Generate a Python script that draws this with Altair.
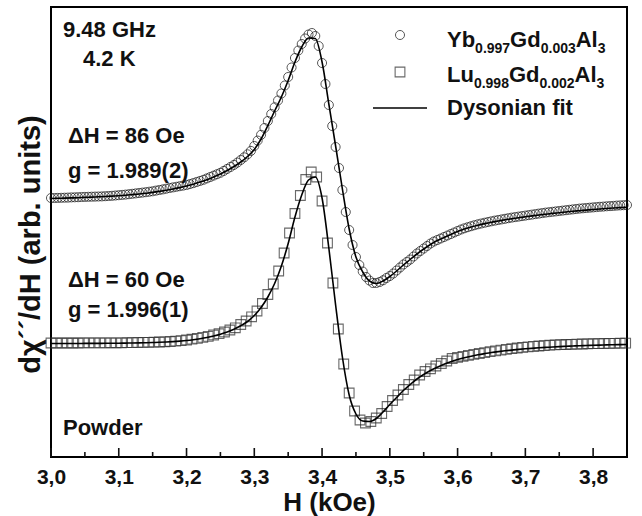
import altair as alt
import pandas as pd

# ---- data (arbitrary units) ----
# Yb0.997Gd0.003Al3 (circles), sampled every 0.005 kOe from 3.000 kOe
yb_signal = [
    259, 259, 259.1, 259.2, 259.3, 259.4, 259.6, 259.7, 259.8, 260,
    260.1, 260.2, 260.3, 260.4, 260.5, 260.6, 260.8, 261, 261.2, 261.5,
    261.8, 262.1, 262.4, 262.8, 263.2, 263.6, 264, 264.4, 264.8, 265.3,
    265.7, 266.4, 267, 267.6, 268.3, 269, 269.6, 270.2, 270.8, 271.4,
    272, 272.9, 273.9, 275, 276.1, 277.2, 278.6, 280, 281.4, 282.8,
    284.2, 286.1, 288.1, 290.1, 292.1, 294.4, 297, 299.7, 302.7, 306.1,
    311, 316.4, 322.2, 329, 336, 343, 349.7, 356.5, 363.5, 371.5,
    380, 389.5, 399, 406.5, 413, 418.5, 422.5, 424, 421, 411,
    394, 373, 352, 331, 310, 289, 267, 245, 227, 212,
    200, 192, 185.5, 180, 176.5, 174, 174, 175, 176.7, 179,
    181, 183.5, 186.5, 189.5, 192.5, 195, 197.5, 200.5, 203.5, 206,
    208.5, 211, 213.5, 215.5, 217, 218.5, 220, 221.5, 223, 224.5,
    226, 227.5, 228.7, 229.8, 230.8, 231.8, 232.7, 233.5, 234.3, 235,
    235.7, 236.4, 237, 237.6, 238.2, 238.8, 239.4, 239.9, 240.4, 240.9,
    241.4, 241.9, 242.4, 242.9, 243.4, 243.9, 244.4, 244.8, 245.2, 245.6,
    246, 246.4, 246.8, 247.2, 247.6, 248, 248.4, 248.7, 249, 249.3,
    249.6, 249.9, 250.2, 250.4, 250.7, 250.9, 251.1, 251.4, 251.6, 251.8,
    252,
]
# Lu0.998Gd0.002Al3 (squares), sampled every 0.008 kOe from 3.000 kOe
lu_signal = [
    114, 114, 114, 114, 114, 114, 114.1, 114.1, 114.1, 114.1,
    114.1, 114.2, 114.2, 114.2, 114.3, 114.4, 114.5, 114.6, 114.7, 114.8,
    115, 115.2, 115.5, 115.9, 116.4, 117, 117.8, 118.6, 119.6, 120.6,
    122, 123.3, 125, 127, 129.2, 132.5, 136, 140.2, 146, 153.5,
    162.5, 173, 186, 204, 224, 243.5, 261.5, 277.5, 285, 280,
    256, 214, 174, 128, 93, 64, 46, 37, 34, 35.5,
    39, 43.5, 50.5, 56.5, 62, 67.5, 72.5, 77, 82, 85.5,
    88.2, 91, 93.5, 96, 98.5, 99.7, 100.7, 101.7, 102.6, 103.5,
    104.4, 105.3, 106.1, 106.9, 107.6, 108.3, 109, 109.6, 110.1, 110.6,
    111, 111.4, 111.8, 112.1, 112.3, 112.5, 112.7, 112.9, 113, 113.2,
    113.3, 113.4, 113.5, 113.6, 113.7, 113.8, 113.9,
]
# Dysonian fits, sampled every 0.01 kOe from 3.00 kOe
yb_fit = [
    258.5, 258.7, 258.9, 259.1, 259.3, 259.6, 259.9, 260.2, 260.5, 260.9,
    261.3, 261.8, 262.4, 263, 263.8, 264.6, 265.6, 266.7, 268, 269.4,
    271, 272.8, 274.9, 277.3, 280, 283, 286.5, 290.5, 295, 300.5,
    307.5, 318, 331.5, 346, 360, 376.5, 395, 410, 419, 418.5,
    395, 353, 311, 268, 228, 200, 185, 176, 173.5, 176,
    180.5, 186, 192, 197.5, 203, 208, 212.5, 216.5, 219.5, 222.5,
    225.5, 228, 230, 231.8, 233.4, 234.8, 236, 237.2, 238.3, 239.3,
    240.2, 241.1, 242, 242.8, 243.6, 244.3, 245, 245.7, 246.3, 246.9,
    247.5, 248, 248.5, 249, 249.4, 249.8,
]
lu_fit = [
    113.5, 113.5, 113.5, 113.5, 113.5, 113.6, 113.6, 113.6, 113.7, 113.7,
    113.8, 113.9, 114, 114.1, 114.3, 114.5, 114.7, 115, 115.4, 115.9,
    116.5, 117.3, 118.3, 119.5, 121, 122.8, 125, 127.7, 131.2, 135.5,
    141.5, 149.5, 160, 173.5, 191, 213.5, 240, 262, 277, 280,
    259, 209, 152, 100, 62, 43, 36, 35.5, 38.5, 45,
    52.5, 59.5, 66.5, 72.5, 78, 82.5, 86.5, 89.8, 92.7, 95.2,
    97.4, 99.2, 100.8, 102.2, 103.4, 104.5, 105.4, 106.2, 106.9, 107.6,
    108.2, 108.7, 109.2, 109.6, 110, 110.4, 110.7, 111, 111.3, 111.5,
    111.7, 111.9, 112.1, 112.3, 112.4, 112.5,
]
major_ticks = [3.0, 3.1, 3.2, 3.3, 3.4, 3.5, 3.6, 3.7, 3.8]
minor_ticks = [3.05, 3.15, 3.25, 3.35, 3.45, 3.55, 3.65, 3.75]

FONT = "Liberation Sans"
INK = "#111111"

yb_df = pd.DataFrame({"H": [round(3.0 + 0.005 * i, 4) for i in range(len(yb_signal))], "signal": yb_signal})
lu_df = pd.DataFrame({"H": [round(3.0 + 0.008 * i, 4) for i in range(len(lu_signal))], "signal": lu_signal})
fit_df = pd.concat([
    pd.DataFrame({"H": [round(3.0 + 0.01 * i, 3) for i in range(len(yb_fit))], "signal": yb_fit, "series": "Yb"}),
    pd.DataFrame({"H": [round(3.0 + 0.01 * i, 3) for i in range(len(lu_fit))], "signal": lu_fit, "series": "Lu"}),
])

xscale = alt.Scale(domain=[3.0, 3.85], nice=False, zero=False)
yscale = alt.Scale(domain=[0, 450], nice=False, zero=False)

xaxis = alt.Axis(
    values=major_ticks,
    labelExpr="replace(format(datum.value, '.1f'), '.', ',')",
    ticks=False, domain=False, grid=False,
    labelFont=FONT, labelFontSize=21, labelFontWeight="bold", labelColor=INK,
    labelPadding=9, labelFlush=False,
    title="H (kOe)", titleFont=FONT, titleFontSize=26, titleFontWeight="bold",
    titleColor=INK, titlePadding=2, titleX=278,
)
yaxis = alt.Axis(
    labels=False, ticks=False, domain=False, grid=False,
    title="dχ´´/dH (arb. units)", titleFont=FONT, titleFontSize=29,
    titleFontWeight="bold", titleColor=INK, titlePadding=6, titleY=237,
)

X = alt.X("H:Q", scale=xscale, axis=xaxis)
Y = alt.Y("signal:Q", scale=yscale, axis=yaxis)

yb_pts = alt.Chart(yb_df).mark_point(shape="circle", size=82, filled=False, stroke=INK, strokeWidth=1).encode(x=X, y=Y)
lu_pts = alt.Chart(lu_df).mark_point(shape="square", size=95, filled=False, stroke="#2a2a2a", strokeWidth=1.1).encode(x=X, y=Y)
fits = alt.Chart(fit_df).mark_line(color="black", strokeWidth=1.6, interpolate="monotone").encode(x=X, y=Y, detail="series:N")

major_df = pd.DataFrame({"H": major_ticks})
minor_df = pd.DataFrame({"H": minor_ticks})
major_rules = alt.Chart(major_df).mark_rule(color=INK, strokeWidth=1.6).encode(
    x=alt.X("H:Q", scale=xscale, axis=xaxis), y=alt.value(450), y2=alt.value(441))
minor_rules = alt.Chart(minor_df).mark_rule(color=INK, strokeWidth=1.6).encode(
    x=alt.X("H:Q", scale=xscale, axis=xaxis), y=alt.value(450), y2=alt.value(445))

# annotations (pixel positions inside the plot area)
ann = pd.DataFrame({
    "text": ["9.48 GHz", "4.2 K", "ΔH = 86 Oe", "g = 1.989(2)", "ΔH = 60 Oe", "g = 1.996(1)", "Powder"],
    "px": [12, 32, 17, 17, 17, 17, 12],
    "py": [30, 59, 136, 171, 280, 310, 428],
})
ann_text = alt.Chart(ann).mark_text(
    font=FONT, fontSize=22, fontWeight="bold", color=INK, align="left", baseline="alphabetic"
).encode(x=alt.X("px:Q", scale=None), y=alt.Y("py:Q", scale=None), text="text:N")

leg_main = pd.DataFrame({
    "text": ["Yb", "Gd", "Al", "Lu", "Gd", "Al", "Dysonian fit"],
    "px": [396, 459.1, 524.7, 396, 457.9, 523.5, 396],
    "py": [40, 40, 40, 75, 75, 75, 108],
})
leg_sub = pd.DataFrame({
    "text": ["0.997", "0.003", "3", "0.998", "0.002", "3"],
    "px": [424.1, 489.7, 546.7, 422.9, 488.5, 545.5],
    "py": [46, 46, 46, 81, 81, 81],
})
leg_main_text = alt.Chart(leg_main).mark_text(
    font=FONT, fontSize=22, fontWeight="bold", color=INK, align="left", baseline="alphabetic"
).encode(x=alt.X("px:Q", scale=None), y=alt.Y("py:Q", scale=None), text="text:N")
leg_sub_text = alt.Chart(leg_sub).mark_text(
    font=FONT, fontSize=14, fontWeight="bold", color=INK, align="left", baseline="alphabetic"
).encode(x=alt.X("px:Q", scale=None), y=alt.Y("py:Q", scale=None), text="text:N")

sym = pd.DataFrame({"px": [349, 349], "py": [28, 65]})
leg_circle = alt.Chart(sym.iloc[[0]]).mark_point(shape="circle", size=82, filled=False, stroke=INK, strokeWidth=1).encode(
    x=alt.X("px:Q", scale=None), y=alt.Y("py:Q", scale=None))
leg_square = alt.Chart(sym.iloc[[1]]).mark_point(shape="square", size=95, filled=False, stroke="#2a2a2a", strokeWidth=1.1).encode(
    x=alt.X("px:Q", scale=None), y=alt.Y("py:Q", scale=None))
leg_line = alt.Chart(pd.DataFrame({"k": [0]})).mark_rule(color="black", strokeWidth=1.6).encode(
    x=alt.value(322), x2=alt.value(376), y=alt.value(101))

chart = alt.layer(
    yb_pts, lu_pts, fits, major_rules, minor_rules,
    ann_text, leg_main_text, leg_sub_text, leg_circle, leg_square, leg_line,
).properties(
    width=576, height=450,
    padding={"left": 51, "top": 7, "right": 15, "bottom": 59},
    autosize=alt.AutoSizeParams(type="none"),
    background="white",
).configure_view(stroke="black", strokeWidth=2)

chart.save("out.html", embed_options={"renderer": "svg", "actions": False})
